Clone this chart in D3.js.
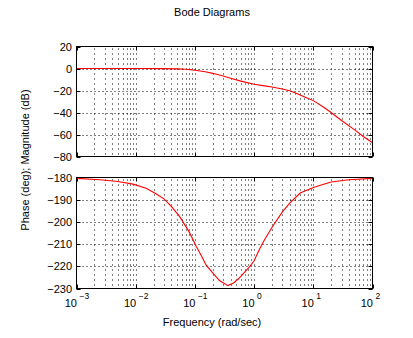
<!DOCTYPE html>
<html>
<head>
<meta charset="utf-8">
<script src="https://cdn.jsdelivr.net/npm/d3@7"></script>
<style>
  html, body { margin: 0; padding: 0; background: #fff; }
  svg { display: block; }
  text { font-family: "Liberation Sans", Arial, sans-serif; fill: #000; }
</style>
</head>
<body>
<svg id="chart" width="413" height="338"></svg>
<script>
// Frequency response samples (rad/sec)
const magFreq = [0.001, 0.01, 0.03, 0.05, 0.07, 0.1, 0.15, 0.2, 0.3, 0.4, 0.6, 1, 1.5, 2, 3, 4, 5, 7, 10, 15, 20, 30, 50, 70, 100];
const magDb   = [0, 0, -0.1, -0.35, -0.7, -1.6, -3, -4.4, -6.8, -8.8, -11.5, -14.3, -15.8, -16.8, -18.6, -20.2, -22.2, -25.6, -29.2, -35.3, -40, -47.3, -55.8, -61.8, -67.5];

const phaseFreq = [0.001, 0.0025, 0.005, 0.009, 0.015, 0.022, 0.03, 0.04, 0.055, 0.08, 0.105, 0.13, 0.155, 0.2, 0.26, 0.36, 0.45, 0.55, 0.7, 0.85, 1, 1.25, 1.5, 2, 3, 4, 6, 10, 15, 20, 40, 100];
const phaseDeg  = [-180.4, -181, -181.8, -183, -184.8, -187.3, -189.6, -193, -197.5, -204.5, -211, -215.5, -219.5, -223, -226.4, -228.7, -227.5, -225.5, -222.5, -220, -217.5, -212, -208, -202.5, -195.5, -191.5, -187, -184.5, -183, -182, -181, -180.4];

const freqDecades = [-3, -2, -1, 0, 1, 2];
const magTicks = [20, 0, -20, -40, -60, -80];
const phaseTicks = [-180, -190, -200, -210, -220, -230];

const svg = d3.select("#chart");
const left = 76.5, right = 372.5;

const x = d3.scaleLog().domain([1e-3, 1e2]).range([left, right]);
const yMag = d3.scaleLinear().domain([-80, 20]).range([156.5, 46.5]);
const yPh  = d3.scaleLinear().domain([-230, -180]).range([288.5, 177.5]);

// minor + major log grid positions
const gridFreqs = [];
freqDecades.slice(0, -1).forEach(e => {
  for (let k = 1; k <= 9; k++) gridFreqs.push(k * Math.pow(10, e));
});
gridFreqs.push(100);

const fmt = v => (v < 0 ? "\u2212" + Math.abs(v) : String(v));

function panel(y, ticks, freqs, vals) {
  const [y0, y1] = y.range();
  const g = svg.append("g");

  // dotted grid
  g.append("g").selectAll("line").data(gridFreqs.filter(f => f > 1e-3 && f < 100)).join("line")
    .attr("x1", d => Math.round(x(d)) + 0.5).attr("x2", d => Math.round(x(d)) + 0.5)
    .attr("y1", y1 + 2).attr("y2", y0)
    .attr("stroke", "#000").attr("stroke-width", 1).attr("stroke-dasharray", "1,4");
  g.append("g").selectAll("line").data(ticks.slice(1, -1)).join("line")
    .attr("x1", left + 2).attr("x2", right)
    .attr("y1", d => Math.round(y(d)) + 0.5).attr("y2", d => Math.round(y(d)) + 0.5)
    .attr("stroke", "#000").attr("stroke-width", 1).attr("stroke-dasharray", "1,3");

  // y tick marks on both sides
  ticks.forEach(t => {
    const yy = Math.round(y(t)) + 0.5;
    g.append("line").attr("x1", left).attr("x2", left + 4).attr("y1", yy).attr("y2", yy).attr("stroke", "#000");
    g.append("line").attr("x1", right - 4).attr("x2", right).attr("y1", yy).attr("y2", yy).attr("stroke", "#000");
  });
  // x tick marks top and bottom
  freqDecades.forEach(e => {
    const xx = Math.round(x(Math.pow(10, e))) + 0.5;
    g.append("line").attr("x1", xx).attr("x2", xx).attr("y1", y0).attr("y2", y0 - 4).attr("stroke", "#000");
    g.append("line").attr("x1", xx).attr("x2", xx).attr("y1", y1).attr("y2", y1 + 4).attr("stroke", "#000");
  });

  // y tick labels
  g.append("g").selectAll("text").data(ticks).join("text")
    .attr("x", 72).attr("y", d => y(d) + 4)
    .attr("text-anchor", "end").attr("font-size", 11)
    .text(fmt);

  // response curve
  const line = d3.line().x((d, i) => x(freqs[i])).y(d => y(d));
  g.append("path").datum(vals)
    .attr("d", line).attr("fill", "none")
    .attr("stroke", "#ff0000").attr("stroke-width", 1.1);

  // box
  g.append("rect").attr("x", left).attr("y", y1).attr("width", right - left).attr("height", y0 - y1)
    .attr("fill", "none").attr("stroke", "#000").attr("stroke-width", 1);
}

panel(yMag, magTicks, magFreq, magDb);
panel(yPh, phaseTicks, phaseFreq, phaseDeg);

// frequency decade labels with superscript exponents
const xl = svg.append("g");
freqDecades.forEach(e => {
  const xx = x(Math.pow(10, e));
  xl.append("text").attr("x", xx + 0.5).attr("y", 307).attr("text-anchor", "end")
    .attr("font-size", 11).text("10");
  xl.append("text").attr("x", xx + 3).attr("y", 298.5).attr("text-anchor", "start")
    .attr("font-size", 8.5).text(fmt(e));
});

svg.append("text").attr("x", 212).attr("y", 16).attr("text-anchor", "middle")
  .attr("font-size", 11).text("Bode Diagrams");
svg.append("text").attr("x", 212).attr("y", 326).attr("text-anchor", "middle")
  .attr("font-size", 11).text("Frequency (rad/sec)");
svg.append("text").attr("transform", "translate(29,160) rotate(-90)")
  .attr("text-anchor", "middle").attr("font-size", 11).text("Phase (deg); Magnitude (dB)");
</script>
</body>
</html>
